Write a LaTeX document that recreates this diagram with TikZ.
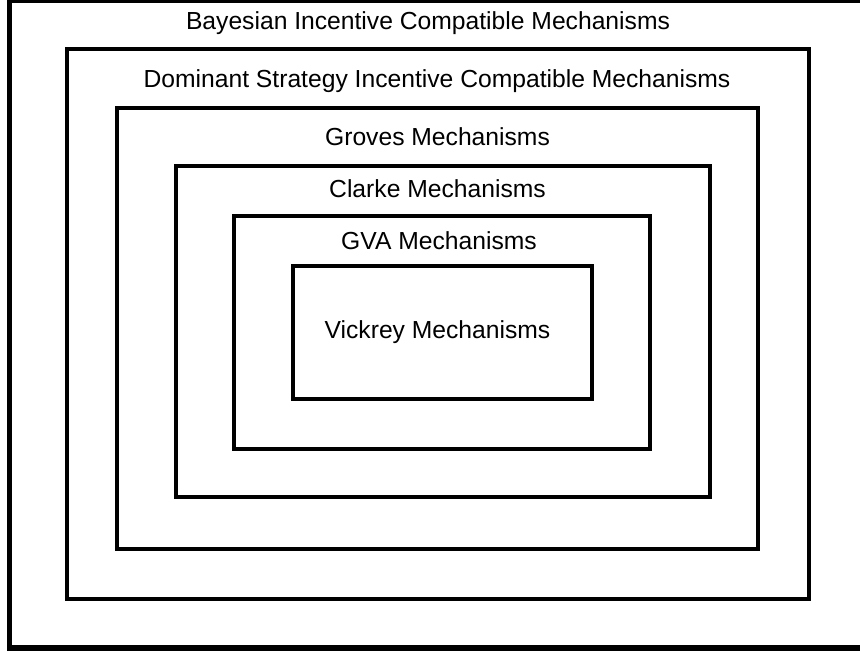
\documentclass[tikz,border=0pt]{standalone}
\usepackage{fontspec}
\setmainfont{Liberation Sans}
\begin{document}
\begin{tikzpicture}[x=0.75pt,y=-0.75pt,
  frame/.style={draw=black,line width=2.5pt},
  outer/.style={draw=black,line width=4.2pt},
  lbl/.style={font=\fontsize{18.5pt}{22pt}\selectfont,inner sep=0pt,anchor=base}]
\useasboundingbox (0,0) rectangle (860,653);
\fill[white] (0,0) rectangle (860,653);
\begin{scope}
\clip (0,0) rectangle (860,653);
\draw[outer] (9.5,0.5) rectangle (866,648);
\end{scope}
\draw[frame] (67,49) rectangle (809,599);
\draw[frame] (117,108) rectangle (758,549);
\draw[frame] (176,166) rectangle (710,497);
\draw[frame] (234,216) rectangle (650,449);
\draw[frame] (293,266) rectangle (592,399);
\node[lbl] (bic) at (428,29) {Bayesian Incentive Compatible Mechanisms};
\node[lbl] (dsic) at (437,87) {Dominant Strategy Incentive Compatible Mechanisms};
\node[lbl] (groves) at (437.5,145) {Groves Mechanisms};
\node[lbl] (clarke) at (437.5,197) {Clarke Mechanisms};
\node[lbl] (gva) at (439,249) {GVA Mechanisms};
\node[lbl] (vick) at (437.5,338) {Vickrey Mechanisms};
\end{tikzpicture}
\end{document}
